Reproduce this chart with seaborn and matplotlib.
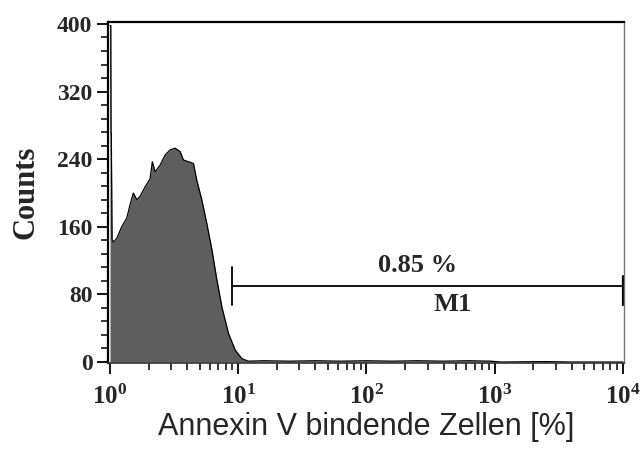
import numpy as np
import matplotlib
matplotlib.use("Agg")
import matplotlib.pyplot as plt
import seaborn as sns
from matplotlib.ticker import FixedLocator, FuncFormatter, MultipleLocator, LogLocator, NullFormatter

# histogram: log10 of fluorescence and counts
log_fluor = [0.000, 0.006, 0.008, 0.010, 0.016, 0.026, 0.052, 0.091, 0.130, 0.156,
             0.182, 0.209, 0.234, 0.273, 0.313, 0.330, 0.352, 0.391, 0.430, 0.469,
             0.508, 0.547, 0.573, 0.612, 0.651, 0.677, 0.716, 0.755, 0.795, 0.834,
             0.873, 0.924, 0.977, 1.029, 1.078, 1.20, 1.40, 1.60, 1.80, 2.00,
             2.20, 2.40, 2.60, 2.80, 2.97, 3.05, 3.40, 3.60, 4.00]
counts = [398, 398, 270, 270, 145, 142, 146, 160, 170, 186,
          200, 192, 196, 207, 217, 237, 225, 233, 245, 251,
          253, 249, 239, 237, 235, 215, 192, 164, 133, 97,
          65, 34, 14, 4, 1, 1.5, 1, 1.5, 1, 1.5,
          1, 1.5, 1, 1.5, 1, 0, 0.5, 0, 0]

# marker M1
gate_start = 8.98
gate_end = 1e4
gate_level = 90
gate_label = "0.85 %"
gate_name = "M1"

sns.set_style("ticks")
plt.rcParams["mathtext.fontset"] = "custom"
plt.rcParams["mathtext.rm"] = "Liberation Serif"
plt.rcParams["mathtext.bf"] = "Liberation Serif:bold"

x = 10 ** np.array(log_fluor)
y = np.array(counts)

fig = plt.figure(figsize=(6.43, 4.5), dpi=100)
ax = fig.add_axes([0.1675, 0.1944, 0.8030, 0.7574])

ax.fill_between(x, y, 0, color="#5e5e5e", linewidth=0)
sns.lineplot(x=x, y=y, ax=ax, color="black", linewidth=0.9, sort=False)

# gate bar
ax.plot([gate_start, gate_end], [gate_level, gate_level], color="black", lw=1.3)
ax.plot([gate_start, gate_start], [gate_level - 22, gate_level + 23], color="black", lw=1.3)
ax.plot([gate_end, gate_end], [gate_level - 22, gate_level + 12], color="black", lw=1.6)
ax.text(10 ** 2.4, gate_level + 11, gate_label, ha="center", va="bottom",
        family="Liberation Serif", weight="bold", fontsize=19)
ax.text(10 ** 2.67, gate_level - 8, gate_name, ha="center", va="top",
        family="Liberation Serif", weight="bold", fontsize=19)

ax.set_xscale("log")
ax.set_xlim(10 ** -0.018, 10 ** 4.01)
ax.set_ylim(-0.6, 402.7)

ax.yaxis.set_major_locator(MultipleLocator(80))
ax.yaxis.set_minor_locator(MultipleLocator(16))
ax.xaxis.set_major_locator(FixedLocator([1, 10, 100, 1000, 10000]))
ax.xaxis.set_minor_locator(LogLocator(base=10, subs=np.arange(2, 10)))
ax.xaxis.set_minor_formatter(NullFormatter())
ax.xaxis.set_major_formatter(FuncFormatter(lambda v, p: r"$\mathbf{10^{%d}}$" % round(np.log10(v))))

ax.tick_params(axis="both", which="major", length=8, width=1.3, color="black", pad=3)
ax.tick_params(axis="both", which="minor", length=5, width=1.1, color="black")
ax.tick_params(axis="x", which="major", pad=8)
for lab in ax.get_yticklabels():
    lab.set_family("Liberation Serif")
    lab.set_weight("bold")
    lab.set_fontsize(17)
for lab in ax.get_xticklabels():
    lab.set_fontsize(18)

for side in ["top", "left"]:
    ax.spines[side].set_linewidth(1.6)
    ax.spines[side].set_color("black")
ax.spines["bottom"].set_linewidth(1.2)
ax.spines["bottom"].set_color("#333333")
ax.spines["right"].set_linewidth(1.0)
ax.spines["right"].set_color("#777777")

ax.set_ylabel("Counts", family="Liberation Serif", weight="bold", fontsize=22, labelpad=12)
ax.set_xlabel("Annexin V bindende Zellen [%]", family="Liberation Sans", fontsize=22, labelpad=2)

fig.savefig("out.png", dpi=100)
